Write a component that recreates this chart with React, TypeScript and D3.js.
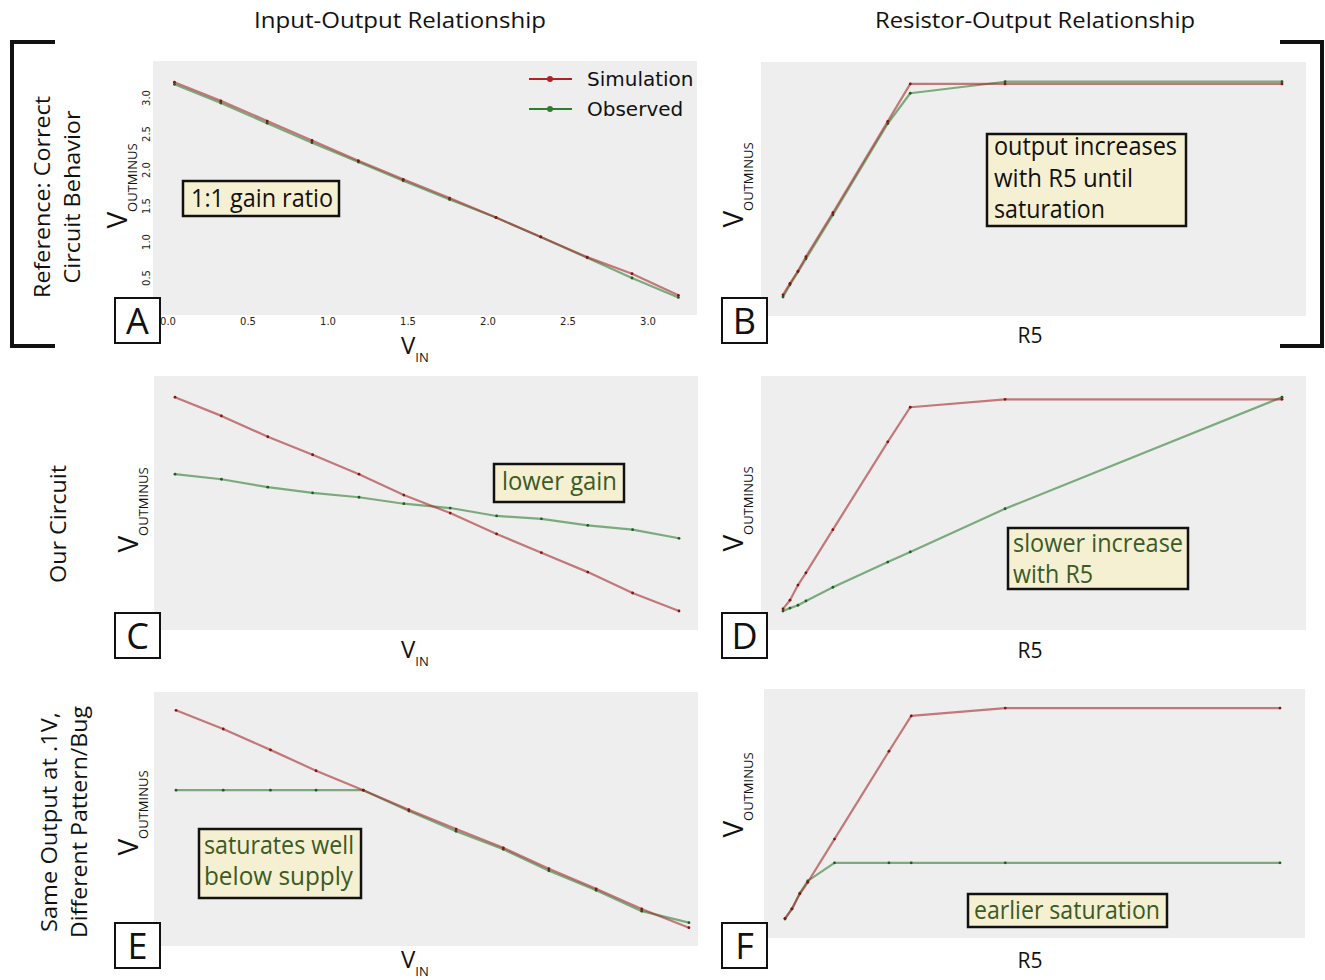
import React from 'react';
import * as d3 from 'd3';

// ---------- data ----------
const vinValues = [0.04, 0.33, 0.62, 0.9, 1.19, 1.47, 1.76, 2.05, 2.33, 2.62, 2.9, 3.19];
const r5Values = [0, 1.4, 3.0, 4.6, 10, 21, 25.5, 44.5, 100];

const simA = [3.22, 2.96, 2.68, 2.41, 2.13, 1.87, 1.61, 1.34, 1.07, 0.79, 0.56, 0.26];
const obsA = [3.19, 2.93, 2.65, 2.38, 2.11, 1.85, 1.59, 1.34, 1.07, 0.78, 0.5, 0.23];
const simB = [0.28, 0.44, 0.61, 0.81, 1.42, 2.69, 3.21, 3.21, 3.21];
const obsB = [0.25, 0.42, 0.6, 0.78, 1.39, 2.66, 3.08, 3.24, 3.24];
const simC = [3.22, 2.96, 2.67, 2.42, 2.15, 1.86, 1.61, 1.32, 1.06, 0.79, 0.5, 0.25];
const obsC = [2.15, 2.08, 1.97, 1.89, 1.83, 1.74, 1.68, 1.57, 1.53, 1.44, 1.38, 1.26];
const simD = [0.28, 0.4, 0.61, 0.78, 1.38, 2.6, 3.08, 3.19, 3.19];
const obsD = [0.25, 0.29, 0.33, 0.39, 0.58, 0.93, 1.07, 1.67, 3.22];
const simE = [3.26, 3.0, 2.71, 2.42, 2.15, 1.88, 1.61, 1.35, 1.06, 0.78, 0.5, 0.24];
const obsE = [2.15, 2.15, 2.15, 2.15, 2.15, 1.86, 1.58, 1.33, 1.03, 0.76, 0.47, 0.31];
const simF = [0.26, 0.39, 0.6, 0.76, 1.36, 2.58, 3.07, 3.18, 3.18];
const obsF = [0.25, 0.39, 0.61, 0.78, 1.03, 1.03, 1.03, 1.03, 1.03];

const xTickValues = [0, 0.5, 1.0, 1.5, 2.0, 2.5, 3.0];
const yTickValues = [0.5, 1.0, 1.5, 2.0, 2.5, 3.0];

const columnTitles = ['Input-Output Relationship', 'Resistor-Output Relationship'];
const rowLabelsRef = ['Reference: Correct', 'Circuit Behavior'];
const rowLabelsOur = ['Our Circuit'];
const rowLabelsBug = ['Same Output at .1V,', 'Different Pattern/Bug'];
const legendLabels = ['Simulation', 'Observed'];
const panelLetters = ['A', 'B', 'C', 'D', 'E', 'F'];
const noteA = ['1:1 gain ratio'];
const noteB = ['output increases', 'with R5 until', 'saturation'];
const noteC = ['lower gain'];
const noteD = ['slower increase', 'with R5'];
const noteE = ['saturates well', 'below supply'];
const noteF = ['earlier saturation'];

// ---------- styles ----------
const FONT = "'Open Sans', 'Noto Sans', sans-serif";
const MPL = "'DejaVu Sans', sans-serif";
const BG = '#eeeeee';
const SIM_LINE = '#a52a2a';
const OBS_LINE = '#2e7d32';
const SIM_DOT = '#8b1010';
const OBS_DOT = '#1b5e20';
const NOTE_FILL = '#f6f0d3';
const NOTE_GREEN = '#3a5a26';

type Note = { lines: string[]; widths: number[]; x: number; y: number; w: number; h: number; tx: number; base: number[]; color: string };
type Panel = {
  letter: string; kind: 'vin' | 'r5';
  left: number; top: number; right: number; bottom: number;
  xr: [number, number];
  sim: number[]; obs: number[];
  ylabX: number; ylabCY: number;
  xlabY: number;
  box: [number, number];
  note: Note;
};

const panels: Panel[] = [
  {
    letter: panelLetters[0], kind: 'vin', left: 153, top: 61, right: 697, bottom: 315, xr: [168, 648],
    sim: simA, obs: obsA, ylabX: 127, ylabCY: 186, xlabY: 354, box: [115, 298],
    note: { lines: noteA, widths: [142], x: 183, y: 181, w: 156, h: 35, tx: 191, base: [207], color: '#111' },
  },
  {
    letter: panelLetters[1], kind: 'r5', left: 761, top: 62, right: 1306, bottom: 316, xr: [783, 1282],
    sim: simB, obs: obsB, ylabX: 743, ylabCY: 185, xlabY: 343, box: [722, 298],
    note: { lines: noteB, widths: [183, 139, 111], x: 987, y: 134, w: 199, h: 92, tx: 994, base: [155, 187, 218], color: '#111' },
  },
  {
    letter: panelLetters[2], kind: 'vin', left: 154, top: 376, right: 698, bottom: 630, xr: [168.6, 648.6],
    sim: simC, obs: obsC, ylabX: 138, ylabCY: 510, xlabY: 658, box: [115, 613],
    note: { lines: noteC, widths: [115], x: 494, y: 464, w: 130, h: 38, tx: 502, base: [490], color: NOTE_GREEN },
  },
  {
    letter: panelLetters[3], kind: 'r5', left: 761, top: 376, right: 1306, bottom: 630, xr: [783, 1282],
    sim: simD, obs: obsD, ylabX: 743, ylabCY: 509, xlabY: 658, box: [722, 613],
    note: { lines: noteD, widths: [170, 80], x: 1008, y: 528, w: 180, h: 61, tx: 1013, base: [552, 583], color: NOTE_GREEN },
  },
  {
    letter: panelLetters[4], kind: 'vin', left: 154, top: 692, right: 698, bottom: 946, xr: [169.5, 658],
    sim: simE, obs: obsE, ylabX: 138, ylabCY: 813, xlabY: 968, box: [115, 923],
    note: { lines: noteE, widths: [150, 149], x: 199, y: 829, w: 162, h: 69, tx: 204, base: [854, 885], color: NOTE_GREEN },
  },
  {
    letter: panelLetters[5], kind: 'r5', left: 764, top: 689, right: 1305, bottom: 938, xr: [785, 1280],
    sim: simF, obs: obsF, ylabX: 743, ylabCY: 795, xlabY: 968, box: [722, 923],
    note: { lines: noteF, widths: [186], x: 968, y: 894, w: 199, h: 33, tx: 974, base: [919], color: NOTE_GREEN },
  },
];

function PanelView({ p }: { p: Panel }) {
  const xs = p.kind === 'vin' ? vinValues : r5Values;
  const x = d3.scaleLinear().domain(p.kind === 'vin' ? [0, 3] : [0, 100]).range(p.xr);
  const y = d3.scaleLinear().domain([0, 3.5]).range([p.bottom - 1, p.bottom - 1 - 252]);
  const line = d3.line<number>().x((_, i) => x(xs[i])).y((d) => y(d));
  const series = [
    { vals: p.obs, color: OBS_LINE, dot: OBS_DOT },
    { vals: p.sim, color: SIM_LINE, dot: SIM_DOT },
  ];
  const isA = p.letter === 'A';
  return (
    <g>
      <rect x={p.left} y={p.top} width={p.right - p.left} height={p.bottom - p.top} fill={BG} />
      {series.map((s, k) => (
        <g key={k}>
          <path d={line(s.vals) || ''} fill="none" stroke={s.color} strokeOpacity={0.6} strokeWidth={2.2} strokeLinejoin="round" />
          {s.vals.map((v, i) => (
            <circle key={i} cx={x(xs[i])} cy={y(v)} r={1.4} fill={s.dot} />
          ))}
        </g>
      ))}
      {isA && (
        <g fontFamily={MPL} fontSize={10} fill="#222">
          {xTickValues.map((v) => (
            <text key={v} x={x(v)} y={325} textAnchor="middle">{d3.format('.1f')(v)}</text>
          ))}
          {yTickValues.map((v) => (
            <text key={v} transform={`translate(${150},${y(v)}) rotate(-90)`} textAnchor="middle">{d3.format('.1f')(v)}</text>
          ))}
        </g>
      )}
      {isA && (
        <g fontFamily={MPL} fontSize={20} fill="#111">
          {legendLabels.map((lab, i) => {
            const ly = 79 + i * 30;
            const c = i === 0 ? '#b22222' : OBS_LINE;
            return (
              <g key={lab}>
                <line x1={529} x2={572} y1={ly} y2={ly} stroke={c} strokeWidth={2} />
                <circle cx={550} cy={ly} r={3} fill={c} />
                <text x={587} y={ly + 7}>{lab}</text>
              </g>
            );
          })}
        </g>
      )}
      {/* y label */}
      <text transform={`translate(${p.ylabX},${p.ylabCY}) rotate(-90)`} textAnchor="middle" fontFamily={FONT} fontSize={28} fill="#111">
        V<tspan fontSize={13} dy={10}>OUTMINUS</tspan>
      </text>
      {/* x label */}
      {p.kind === 'vin' ? (
        <text x={401} y={p.xlabY} fontFamily={FONT} fontSize={24} fill="#111">
          V<tspan fontSize={13} dy={8}>IN</tspan>
        </text>
      ) : (
        <text x={1030} y={p.xlabY} textAnchor="middle" fontFamily={FONT} fontSize={22} fill="#111" textLength={25} lengthAdjust="spacingAndGlyphs">R5</text>
      )}
      {/* annotation */}
      <rect x={p.note.x} y={p.note.y} width={p.note.w} height={p.note.h} fill={NOTE_FILL} stroke="#111" strokeWidth={2.5} />
      {p.note.lines.map((ln, i) => (
        <text key={i} x={p.note.tx} y={p.note.base[i]} fontFamily={FONT} fontSize={25} fill={p.note.color}
          textLength={p.note.widths[i]} lengthAdjust="spacingAndGlyphs">{ln}</text>
      ))}
      {/* letter box */}
      <rect x={p.box[0]} y={p.box[1]} width={45} height={45} fill="#fff" stroke="#111" strokeWidth={2} />
      <text x={p.box[0] + 22.5} y={p.box[1] + 36} textAnchor="middle" fontFamily={FONT} fontSize={36} fill="#111">{p.letter}</text>
    </g>
  );
}

export default function App() {
  return (
    <svg width={1325} height={980} style={{ position: 'absolute', left: 0, top: 0, background: '#fff' }}>
      <rect x={0} y={0} width={1325} height={980} fill="#fff" />
      <text x={254} y={28} fontFamily={FONT} fontSize={22} fill="#111" textLength={292} lengthAdjust="spacingAndGlyphs">{columnTitles[0]}</text>
      <text x={875} y={28} fontFamily={FONT} fontSize={22} fill="#111" textLength={320} lengthAdjust="spacingAndGlyphs">{columnTitles[1]}</text>

      {/* brackets */}
      <path d="M55,42 H12 V346 H55" fill="none" stroke="#111" strokeWidth={4} />
      <path d="M1280,42 H1322 V346 H1280" fill="none" stroke="#111" strokeWidth={4} />

      {/* row labels */}
      <g fontFamily={FONT} fontSize={22} fill="#111">
        {rowLabelsRef.map((t, i) => (
          <text key={t} transform={`translate(${50 + i * 30},197) rotate(-90)`} textAnchor="middle"
            textLength={i === 0 ? 202 : 173} lengthAdjust="spacingAndGlyphs">{t}</text>
        ))}
        {rowLabelsOur.map((t) => (
          <text key={t} transform={`translate(66,524) rotate(-90)`} textAnchor="middle" textLength={118} lengthAdjust="spacingAndGlyphs">{t}</text>
        ))}
        {rowLabelsBug.map((t, i) => (
          <text key={t} transform={`translate(${57 + i * 30},822) rotate(-90)`} textAnchor="middle"
            textLength={i === 0 ? 220 : 232} lengthAdjust="spacingAndGlyphs">{t}</text>
        ))}
      </g>

      {panels.map((p) => (
        <PanelView key={p.letter} p={p} />
      ))}
    </svg>
  );
}
